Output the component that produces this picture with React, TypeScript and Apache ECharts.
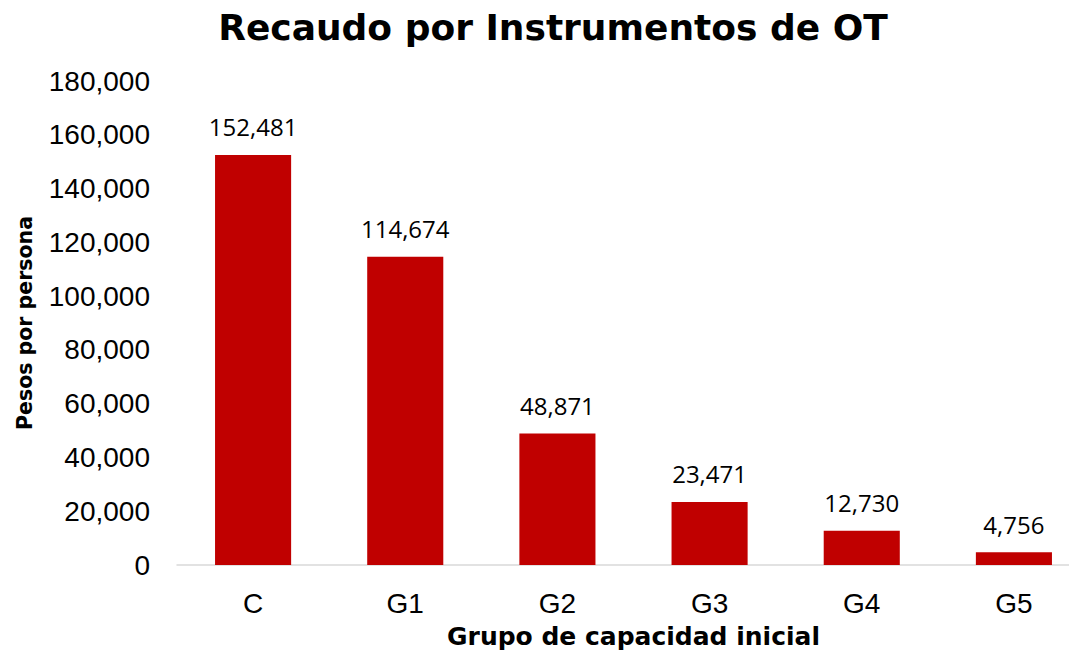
import React, { useEffect, useRef } from "react";
import * as echarts from "echarts";

const categories = ["C", "G1", "G2", "G3", "G4", "G5"];
const values = [152481, 114674, 48871, 23471, 12730, 4756];
const titleText = "Recaudo por Instrumentos de OT";
const xName = "Grupo de capacidad inicial";
const yName = "Pesos por persona";

const fmt = (v: number) => v.toLocaleString("en-US");

export default function App() {
  const ref = useRef<HTMLDivElement>(null);
  useEffect(() => {
    const chart = echarts.init(ref.current!, null, { renderer: "svg" });
    chart.setOption({
      animation: false,
      backgroundColor: "#ffffff",
      title: {
        text: titleText,
        left: 548,
        textAlign: "center",
        top: 4,
        textStyle: {
          fontFamily: "DejaVu Sans",
          fontWeight: "bold",
          fontSize: 36,
          color: "#000000",
        },
      },
      grid: {
        left: 177,
        right: -21,
        top: 81,
        bottom: 95,
        containLabel: false,
        outerBoundsMode: "none",
      },
      xAxis: {
        type: "category",
        data: categories,
        name: xName,
        nameLocation: "middle",
        nameGap: 59,
        nameTextStyle: {
          fontFamily: "DejaVu Sans",
          fontWeight: "bold",
          fontSize: 25,
          color: "#000",
        },
        axisLine: { show: true, lineStyle: { color: "#d9d9d9", width: 1.5 } },
        axisTick: { show: false },
        axisLabel: {
          margin: 24,
          fontFamily: "Liberation Sans",
          fontSize: 28,
          color: "#000",
        },
      },
      yAxis: {
        type: "value",
        min: 0,
        max: 180000,
        interval: 20000,
        name: yName,
        nameLocation: "middle",
        nameGap: 142,
        nameTextStyle: {
          fontFamily: "DejaVu Sans",
          fontWeight: "bold",
          fontSize: 20.5,
          color: "#000",
        },
        splitLine: { show: false },
        axisLine: { show: false },
        axisTick: { show: false },
        axisLabel: {
          margin: 27,
          fontFamily: "Liberation Sans",
          fontSize: 28,
          color: "#000",
          formatter: (v: number) => fmt(v),
        },
      },
      series: [
        {
          type: "bar",
          data: values,
          barCategoryGap: "50%",
          itemStyle: { color: "#c00000" },
          label: {
            show: true,
            position: "top",
            distance: 16,
            fontFamily: "Open Sans",
            fontSize: 24,
            color: "#000",
            formatter: (p: any) => fmt(p.value),
          },
        },
      ],
    });
    return () => chart.dispose();
  }, []);
  return (
    <div
      ref={ref}
      style={{ position: "absolute", left: 0, top: 0, width: 1069, height: 660 }}
    />
  );
}
